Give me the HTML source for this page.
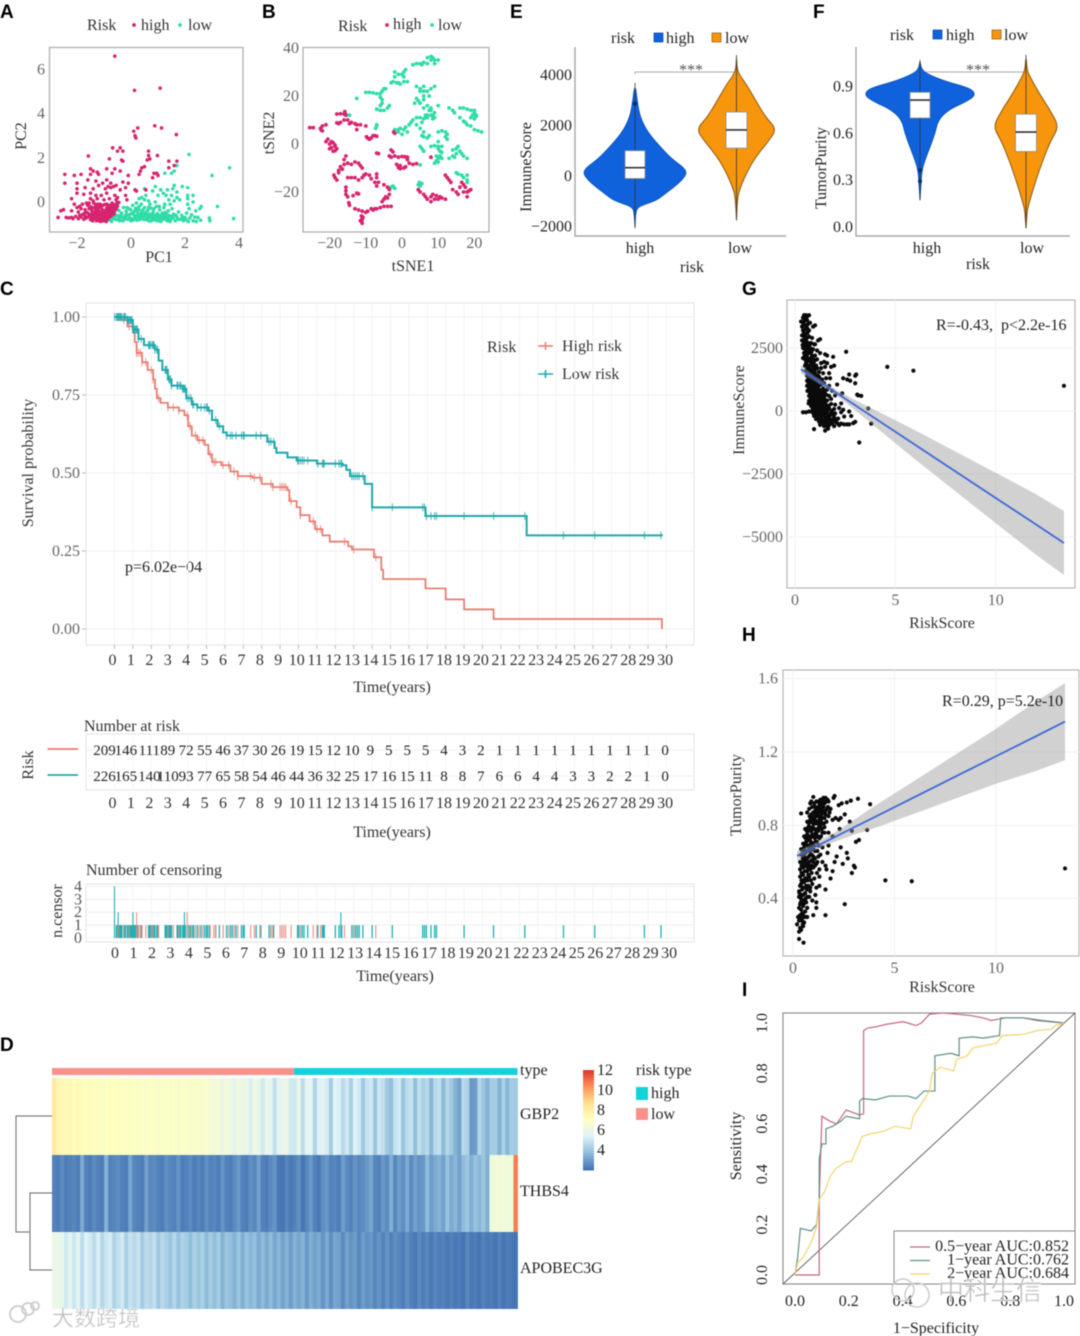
<!DOCTYPE html>
<html lang="en">
<head>
<meta charset="utf-8">
<title>Risk score multi-panel figure</title>
<style>
html,body{margin:0;padding:0;background:#fff;width:1080px;height:1336px;overflow:hidden}
svg{display:block;filter:blur(.5px)}
text{font-family:"Liberation Serif","Noto Sans CJK SC",serif;font-size:16px;fill:#222}
.letter{font-family:"Liberation Sans",sans-serif;font-weight:bold;font-size:19px;fill:#000}
.title{fill:#333}
.wm{font-family:"Liberation Sans","Noto Sans CJK SC",sans-serif;font-size:26px;fill:#bdbdbd;stroke:#fff;stroke-width:.4}
</style>
</head>
<body>
<svg id="fig" xmlns="http://www.w3.org/2000/svg" width="1080" height="1336" viewBox="0 0 1080 1336">
<rect width="1080" height="1336" fill="#fff"/>
<text class="letter" x="0" y="18">A</text>
<text class="letter" x="262" y="18">B</text>
<text class="letter" x="0" y="295">C</text>
<text class="letter" x="0" y="1051">D</text>
<text class="letter" x="510" y="18">E</text>
<text class="letter" x="813" y="18">F</text>
<text class="letter" x="742" y="295">G</text>
<text class="letter" x="742" y="641">H</text>
<text class="letter" x="742" y="996">I</text>

<g id="panelA">
<rect x="49.5" y="47.5" width="193.5" height="184.5" fill="#fff" stroke="#aaa" stroke-width="1.2"/>
<text class="title" x="87" y="30">Risk</text>
<circle cx="134" cy="25" r="1.9" fill="#d6246e"/>
<text class="title" x="141" y="30">high</text>
<circle cx="180" cy="25" r="1.9" fill="#2fdca8"/>
<text class="title" x="188" y="30">low</text>
<text class="title" x="159" y="262" text-anchor="middle">PC1</text>
<text class="title" transform="translate(26,136) rotate(-90)" text-anchor="middle">PC2</text>
</g>

<g id="panelB">
<rect x="303" y="47.5" width="186" height="184.5" fill="#fff" stroke="#aaa" stroke-width="1.2"/>
<text class="title" x="338" y="31">Risk</text>
<circle cx="387" cy="25" r="1.9" fill="#d6246e"/>
<text class="title" x="393" y="29">high</text>
<circle cx="432" cy="25" r="1.9" fill="#2fdca8"/>
<text class="title" x="438" y="30">low</text>
<text class="title" x="413" y="271" text-anchor="middle">tSNE1</text>
<text class="title" transform="translate(274,133) rotate(-90)" text-anchor="middle">tSNE2</text>
</g>

<g id="panelE">
<text x="611" y="43">risk</text>
<rect x="654" y="33" width="9" height="9" fill="#0f62dc" stroke="#0b47a0" stroke-width=".7"/>
<text x="666" y="43">high</text>
<rect x="712" y="33" width="9" height="9" fill="#f7960c" stroke="#8a5a10" stroke-width=".7"/>
<text x="725" y="43">low</text>
<path d="M575 47V236H786" fill="none" stroke="#999" stroke-width="1.2"/>
<text x="692" y="272" text-anchor="middle">risk</text>
<text transform="translate(531,167) rotate(-90)" text-anchor="middle">ImmuneScore</text>
<path d="M635 74V72H736" fill="none" stroke="#aaa" stroke-width="1"/>
<text x="691" y="75" text-anchor="middle" style="fill:#555">***</text>
</g>

<g id="panelF">
<text x="890" y="40">risk</text>
<rect x="933" y="30" width="9" height="9" fill="#0f62dc" stroke="#0b47a0" stroke-width=".7"/>
<text x="946" y="40">high</text>
<rect x="992" y="30" width="9" height="9" fill="#f7960c" stroke="#8a5a10" stroke-width=".7"/>
<text x="1004" y="40">low</text>
<path d="M856 47V236H1070" fill="none" stroke="#999" stroke-width="1.2"/>
<text x="978" y="269" text-anchor="middle">risk</text>
<text transform="translate(826,168) rotate(-90)" text-anchor="middle">TumorPurity</text>
<path d="M920 72H1025" fill="none" stroke="#aaa" stroke-width="1"/>
<text x="978" y="75" text-anchor="middle" style="fill:#555">***</text>
</g>

<g id="panelC">
<rect x="86" y="303" width="608" height="342" fill="#fff" stroke="#e6e6e6" stroke-width="1.2"/>
<text class="title" x="392" y="692" text-anchor="middle">Time(years)</text>
<text class="title" transform="translate(33,463) rotate(-90)" text-anchor="middle">Survival probability</text>
<text x="125" y="572">p=6.02e−04</text>
<text class="title" x="487" y="352">Risk</text>
<text class="title" x="562" y="351">High risk</text>
<text class="title" x="562" y="379">Low risk</text>
<path d="M538 346H553M545.5 342V350" stroke="#e8786c" stroke-width="1.4"/>
<path d="M538 374H553M545.5 370V378" stroke="#1fa8ab" stroke-width="1.6"/>
</g>

<g id="panelRisk">
<text class="title" x="84" y="731">Number at risk</text>
<rect x="86" y="734" width="608" height="56" fill="#fff" stroke="#e6e6e6" stroke-width="1.2"/>
<line x1="47.5" x2="78" y1="749" y2="749" stroke="#e8786c" stroke-width="1.8"/>
<line x1="47.5" x2="78" y1="775" y2="775" stroke="#1fa8ab" stroke-width="1.8"/>
<text class="title" transform="translate(33,765) rotate(-90)" text-anchor="middle">Risk</text>
<text class="title" x="392" y="837" text-anchor="middle">Time(years)</text>
</g>

<g id="panelCensor">
<text class="title" x="86" y="875">Number of censoring</text>
<rect x="86" y="884" width="608" height="58" fill="#fff" stroke="#e6e6e6" stroke-width="1.2"/>
<text class="title" transform="translate(62,911) rotate(-90)" text-anchor="middle">n.censor</text>
<text class="title" x="395" y="981" text-anchor="middle">Time(years)</text>
</g>

<g id="panelD">
<path d="M52 1116H16V1232H30M52 1193H30V1270H52" fill="none" stroke="#666" stroke-width="1"/>
<text x="520" y="1075">type</text>
<text x="520" y="1119">GBP2</text>
<text x="520" y="1196">THBS4</text>
<text x="520" y="1273">APOBEC3G</text>
<text x="636" y="1075">risk type</text>
<rect x="636" y="1087" width="12" height="13" fill="#12d3dc"/>
<text x="651" y="1098">high</text>
<rect x="636" y="1108" width="12" height="12" fill="#f8918a"/>
<text x="651" y="1119">low</text>
</g>

<g id="panelG">
<rect x="787" y="300" width="288" height="288" fill="#fff" stroke="#b5b5b5" stroke-width="1.2"/>
<text x="936" y="330" xml:space="preserve">R=-0.43,  p&lt;2.2e-16</text>
<text class="title" x="942" y="628" text-anchor="middle">RiskScore</text>
<text class="title" transform="translate(744,410) rotate(-90)" text-anchor="middle">ImmuneScore</text>
</g>

<g id="panelH">
<rect x="783" y="670" width="296" height="286" fill="#fff" stroke="#b5b5b5" stroke-width="1.2"/>
<text class="title" x="942" y="992" text-anchor="middle">RiskScore</text>
<text class="title" transform="translate(741,795) rotate(-90)" text-anchor="middle">TumorPurity</text>
</g>

<g id="panelI">
<rect x="783" y="1013" width="292" height="271" fill="#fff" stroke="#888" stroke-width="1.1"/>
<text x="936" y="1333" text-anchor="middle">1−Specificity</text>
<text transform="translate(741,1146) rotate(-90)" text-anchor="middle">Sensitivity</text>
</g>
<g id="watermarks"></g>
</svg>

<script>
// ---------- Panel A data (PC1, PC2) ----------
const pcaHigh=[[-.6,6.6],[.13,5.05],[1.08,5.15],[.1,3.2],[.25,3.35],[.15,3],[.18,2.9],[.88,3.45],[1.13,3.35],[1.68,3.05],[-.68,2.45],[-.5,2.3],[-.4,2.45],[-.3,2.3],[-1.58,2.08],[.65,2.3],[.65,2.1],[.7,1.95],[.98,2.1],[-.8,1.95],[-.35,1.9],[-.3,1.85],[1.4,1.85],[1.7,1.85],[.5,1.6],[.4,1.55],[.35,1.4],[.6,1.9],[1.4,1.55],[1.6,1.65],[-2.45,1.25],[-2.1,1.2],[-1.85,1.25],[-1.5,1.5],[-1.4,1.4],[-1.5,1.25],[-1.25,1.35],[-1.2,1.25],[-.9,1.5],[-.7,1.3],[-.6,1.5],[-.4,1.4],[-.1,1.2],[.3,1.25],[.85,1.3],[.95,1.3],[.8,1.1],[1,1.2],[-2.45,.85],[-2,.85],[-1.6,1],[-1.3,.95],[-1.2,.75],[-.9,1],[-.75,.85],[-.3,.9],[-.1,.85],[-.55,.75],[-1.05,.85],[-.85,.7],[-2,.6],[-2,.4],[-1.7,.65],[-1.4,.6],[-.95,.6],[-.75,.65],[-.65,.7],[-.4,.55],[-.2,.65],[.15,.55],[.2,.5],[.55,.55],[-2.2,.15],[-1.75,.35],[-1.5,.4],[-1.3,.3],[-1.1,.3],[-.9,.4],[-.6,.3],[-.5,.2],[-.2,.3],[-.15,.1],[-.55,.1],[-1,.1],[-1.5,.15],[-1.4,.05],[-1.25,.15],[-.8,.15],[-2.7,-.7],[-2.6,-.4],[-2.5,-.35],[-2.4,-.7],[-2.3,-.72],[-2.2,-.4],[-2.15,-.75],[-2.05,-.65],[-2,-.25],[-1.95,-.75],[-1.85,-.68],[-1.8,-.1],[-1.75,-.78],[-1.7,-.35],[-1.65,-.72],[-1.6,-.15],[-1.55,-.55],[-1.5,-.8],[-1.45,-.4],[-1.4,-.65],[-1.38,-.05],[-1.35,-.25],[-1.3,-.75],[-1.28,-.55],[-1.25,-.1],[-1.22,-.35],[-1.2,-.65],[-1.18,-.85],[-1.15,-.45],[-1.12,-.72],[-1.1,-.2],[-1.08,-.55],[-1.05,-.8],[-1.02,-.38],[-1,-.65],[-.98,-.12],[-.95,-.5],[-.93,-.78],[-.9,-.28],[-.88,-.6],[-.85,-.42],[-.83,-.72],[-.8,-.15],[-.78,-.52],[-.76,-.32],[-.74,-.65],[-.7,-.05],[-.68,-.42],[-.66,-.22],[-.63,-.55],[-.6,-.12],[-.58,-.35],[-.55,-.25],[-.52,-.05],[-.5,-.18],[-.45,-.02],[-1.95,-.45],[-1.85,-.3],[-1.62,-.48],[-1.48,-.22],[-1.32,-.42],[-1.24,-.8],[-1.16,-.25],[-1.06,-.35],[-.96,-.68],[-.86,-.55],[-.82,-.35],[-.72,-.45],[-1.42,-.85],[-1.28,-.85],[-1.12,-.88],[-1.02,-.85],[-.92,-.88],[-1.58,-.65],[-1.78,-.55],[-2.1,-.1]];
const pcaHighDense=[[-1.5,-.7],[-1.46,-.6],[-1.42,-.5],[-1.38,-.72],[-1.36,-.6],[-1.34,-.5],[-1.3,-.64],[-1.27,-.45],[-1.26,-.7],[-1.23,-.58],[-1.21,-.48],[-1.19,-.75],[-1.17,-.62],[-1.14,-.55],[-1.13,-.8],[-1.11,-.65],[-1.09,-.45],[-1.07,-.72],[-1.05,-.6],[-1.04,-.48],[-1.01,-.75],[-.99,-.56],[-.98,-.42],[-.97,-.82],[-.94,-.6],[-.92,-.45],[-.91,-.7],[-.89,-.35],[-.87,-.78],[-.84,-.5],[-.81,-.6],[-.8,-.42],[-.79,-.25],[-.77,-.4],[-.73,-.52],[-.71,-.3],[-.69,-.18],[-.67,-.34],[-.64,-.42],[-.62,-.24],[-.6,-.3],[-.56,-.12],[-.54,-.3],[-1.2,-.2],[-1.3,-.15],[-1.45,-.3],[-1.55,-.3],[-1.7,-.5],[-1.3,-.3],[-1.05,-.15],[-1.15,-.1],[-.9,-.1],[-.85,-.22],[-1.9,-.2],[-1.65,-.05],[-1.55,-.05],[-2.2,-.7],[-1.9,-.6],[-1.7,-.65]];
const pcaLow=[[3.65,1.55],[2.15,2.15],[3,1.2],[3.8,-.75],[3.2,-.2],[1.7,1.65],[1.6,1.4],[1.25,1.3],[1.5,1.3],[.9,.7],[2.1,.65],[1.9,.7],[1.6,.75],[1.55,.6],[1.35,.55],[1.7,.45],[2.3,.3],[2.1,.3],[1.1,.55],[1.2,.4],[1.3,.3],[1.5,.3],[1.7,.2],[1,.3],[.8,.5],[.5,.6],[.55,.3],[.4,.2],[.3,.15],[.2,-.05],[.5,.1],[.65,.05],[1.4,.1],[1.6,.05],[1.8,.1],[2.1,.15],[2.3,0],[2.6,-.2],[2.55,-.3],[2.4,-.4],[2.15,-.3],[2.1,-.1],[1.45,-.1],[.9,0],[.7,-.1],[-.85,-.8],[-.8,-.65],[-.75,-.82],[-.7,-.6],[-.65,-.75],[-.6,-.5],[-.55,-.8],[-.5,-.62],[-.45,-.38],[-.4,-.72],[-.35,-.5],[-.3,-.85],[-.28,-.25],[-.22,-.62],[-.18,-.42],[-.12,-.78],[-.08,-.3],[-.02,-.55],[.02,-.75],[.06,-.15],[.1,-.45],[.14,-.65],[.18,-.28],[.22,-.82],[.26,-.52],[.3,-.35],[.34,-.7],[.38,-.1],[.42,-.58],[.46,-.78],[.5,-.25],[.54,-.48],[.58,-.68],[.62,-.38],[.66,-.85],[.7,-.55],[.74,-.28],[.78,-.72],[.82,-.45],[.86,-.62],[.9,-.82],[.94,-.2],[.98,-.52],[1.02,-.7],[1.06,-.35],[1.1,-.88],[1.14,-.58],[1.18,-.78],[1.22,-.25],[1.26,-.48],[1.3,-.68],[1.34,-.85],[1.38,-.4],[1.42,-.62],[1.48,-.78],[1.52,-.3],[1.58,-.55],[1.64,-.85],[1.7,-.68],[1.76,-.45],[1.82,-.78],[1.88,-.6],[1.94,-.85],[2,-.7],[2.06,-.5],[2.12,-.88],[2.18,-.72],[2.24,-.58],[2.3,-.85],[2.36,-.68],[2.42,-.88],[2.48,-.7],[2.58,-.82],[2.9,-.72],[2.92,-.85],[.12,-.6],[.2,-.4],[.35,-.55],[.48,-.62],[.6,-.55],[.72,-.68],[.88,-.72],[.96,-.68],[1.08,-.62],[1.2,-.72],[1.28,-.78],[-.2,-.7],[-.1,-.6],[.05,-.5],[.28,-.68],[.4,-.45],[.55,-.8],[.75,-.85],[1,-.85],[1.45,-.88],[-.9,-.85],[-.72,-.88],[-.42,-.85],[0,-.85]];
const pcaLowDense=[[-.62,-.68],[-.48,-.78],[-.38,-.6],[-.32,-.68],[-.25,-.8],[-.16,-.55],[-.05,-.72],[.08,-.82],[.16,-.75],[.24,-.6],[.32,-.8],[.44,-.7],[.5,-.55],[.62,-.75],[.68,-.62],[.8,-.55],[.84,-.8],[.92,-.6],[1,-.6],[1.04,-.78],[1.12,-.7],[1.16,-.5],[1.24,-.62],[1.32,-.55],[1.36,-.72],[1.4,-.8],[1.5,-.65],[1.56,-.72],[1.66,-.6],[1.74,-.78],[1.9,-.72],[2.04,-.8],[.15,-.38],[.3,-.2],[.45,-.35],[.65,-.25],[.85,-.3],[1.05,-.2],[1.25,-.1],[-.15,-.25],[-.02,-.35]];
// ---------- Panel B data (tSNE1, tSNE2) ----------
const tsneHigh=[[-25.5,6.8],[-24.5,6.8],[-22.5,6.5],[-22,5.5],[-22,7.5],[-21,8],[-22.3,5.8],[-18,12.5],[-17,12.6],[-16,12.5],[-15.8,13.5],[-15.5,12],[-18,8.8],[-17.5,8.5],[-17,9],[-16,10],[-15,10],[-14.5,8.5],[-14,9],[-13,8.5],[-12.5,8],[-11.5,8],[-10,7.5],[-12.5,6],[-9.5,2.5],[-9,2],[-8.5,2.5],[-8,3.5],[-7.5,3.5],[-7,3.2],[-9.8,3],[-20.5,2],[-21,1],[-20,0],[-19.5,1],[-19.5,-1.5],[-19,-3],[-18.5,-.5],[-18,-2],[-20,-2],[-18.5,-2.8],[-19,.5],[-18.5,-1],[-7,-3.8],[-6.5,-4],[-3,-2.5],[-2.5,-3.3],[-3.5,-5],[-3,-5.5],[-2,-5],[-1,-5.5],[0,-5.2],[.8,-5.3],[1.5,-5.5],[1.5,-6.5],[2,-8],[3,-8.5],[4,-8.2],[-1.5,-8.5],[-1,-9.8],[-.5,-10.3],[.5,-10],[1,-9.5],[-.5,-9],[-2.3,5],[-2,4.5],[-15.5,-5],[-16,-6.5],[-15,-8],[-14,-8.5],[-13,-7.5],[-12,-8],[-11.5,-9],[-11,-10],[-16,-8.5],[-17,-9.5],[-17.5,-11],[-17.5,-12],[-18.8,-13],[-18.5,-14],[-18,-15],[-16.5,-10.5],[-15,-14],[-14,-14],[-13,-14],[-12,-15],[-11,-14],[-10.5,-13],[-10,-12.5],[-9,-13],[-8.5,-14.5],[-7,-12.5],[-7,-14],[-7.5,-16],[-7,-17.5],[-6.5,-16],[-5,-17],[-4,-18],[-3.5,-19],[-3.5,-21],[-4.5,-22],[-5,-23],[-5.5,-24],[-4,-22.5],[-15.5,-18],[-15.5,-19.5],[-15.5,-21],[-15,-22],[-13.5,-21.5],[-12.5,-20.5],[-12,-20.8],[-14.7,-24.5],[-14.5,-25.5],[-13,-27],[-12,-27.5],[-11,-28],[-10,-28.5],[-9.5,-28],[-8.5,-27],[-11.2,-30],[-11,-31],[-11.5,-32],[-11,-33],[-11,-31.5],[-10.8,-30.5],[-7.5,-27],[-7,-27],[-6,-26.5],[-5,-26],[-4,-26],[-3,-26],[-8,-27.5],[4.5,-19],[5,-20],[6,-21],[6.5,-22],[7,-23],[8,-24],[9,-23],[10,-23],[8.5,-21],[9.5,-21.5],[10.5,-22],[11,-22.5],[12,-23],[8,-22],[12,-13],[12.5,-14],[13,-15],[13.5,-16],[14,-19],[15,-20],[15.5,-21],[16,-18],[17,-17],[17.5,-18],[18,-20],[18.5,-19.5],[17,-20],[18,-22],[16.5,-16],[19,-19],[8,-5.5]];
const tsneLow=[[-12.5,19],[-10,21.5],[-9,21.5],[-8,21.3],[-7,21],[-6,21],[-5.5,22],[-5,23],[-4.5,23],[-6,19.5],[-5.5,18.5],[-5.5,17],[-6,16],[-7,14.5],[-6,14],[-5,14],[-4,15],[-3.5,16],[-3,25.5],[-2.5,26],[-1.5,25.5],[-1,25.5],[-.5,25],[.5,26],[1.5,26],[-2,28],[-1,29],[0,29],[.5,30],[1,31],[.5,28],[-2,30],[3,33],[4,33.5],[5,33.5],[5.5,33],[6,34],[7,36],[8,36.5],[8,35],[8.5,36],[9,35],[10,35],[9,33.5],[7,33.5],[4,24],[5,23],[5,22],[6,24],[6,22],[7,22],[6,20],[7.5,20],[8,23],[4,19],[4.5,18],[3.5,17],[5,17],[6,18.5],[9,24],[-7,7.5],[-7,8],[-7.3,6.5],[-15.5,12.5],[-14.5,12],[-2,6],[-1,6],[-1,5],[-.5,6.5],[0,4],[.5,6],[1,7],[1.5,5],[2,8],[2.5,9],[3,10],[4,11],[5,11],[6,10.5],[6.5,11],[5.5,9],[6.5,12],[7,12],[8,12],[8.5,12],[8,14],[7.5,14],[6,15],[7,16],[9,11],[8.5,10.5],[10,16],[8,15],[9,13],[7,11],[13,15],[14,14],[14.5,13],[16,15],[17,15],[18,14.5],[19,14],[20,14],[20,13],[20.5,12],[19.5,12],[19,11],[20,10.5],[20.5,11.5],[16,11],[17,9.5],[17.5,9],[18,8],[19,7.5],[20,6],[21,5.5],[22,5],[4,8],[5,6.5],[6,5],[5.5,3.5],[6,3],[7,2.5],[7.5,3.5],[10,5],[11,5.5],[12,5],[12,3],[12.5,2],[12.5,4],[10,1],[5,-1],[5.5,-2],[6,-3],[8,-1],[9,-.7],[10,-1],[11,-1],[10,-2],[10.5,-3],[11,-3.5],[9.5,-5],[10,-6],[9.5,-7],[9,-8],[10,-7.5],[11,-6],[10.5,-5],[13,-6],[14,-5],[14.5,-5.5],[15,-4],[15,-2],[15.5,-1],[16,-3],[16.5,-4],[17,-5],[18,-6],[14,-2.5],[15,-12],[15.5,-12.5],[16.5,-13],[17,-14],[18,-13],[18,-15],[18,-16],[4.5,-17],[5,-17.5],[5.5,-16.5],[4.8,-16],[-3,-18],[-2.5,-17.5],[-2,-18.5],[5,-8.7]];
// ---------- Violin data ----------
const immuneHighValues=[-2000,-1400,-1186,-1050,-909,-632,-395,-119,158,395,672,1067,1739,2370,2925,3715];
const immuneHighWidths=[0,.6,3,12,22,31,39,47,52,48,38,28,13,5,2.5,0];
const immuneLowValues=[-1700,-790,-395,158,790,1462,1897,2370,3043,3715,4032,4308,4822];
const immuneLowWidths=[0,1,4,10,19,33,40,29,19,9,3,.5,0];
const purityHighValues=[.18,.288,.372,.436,.52,.607,.69,.756,.81,.853,.897,.94,.99,1.025,1.077];
const purityHighWidths=[0,1,2,5,10,15,18,28,46,56,50,25,6,1,0];
const purityLowValues=[0,.096,.135,.224,.327,.436,.564,.65,.756,.865,.97,1.013,1.11];
const purityLowWidths=[0,1,2,6,11,17,25,33,24,13,4,1,0];
const immuneBoxHigh=[-60,370,1040];
const immuneBoxLow=[1140,1860,2570];
const purityBoxHigh=[.705,.82,.87];
const purityBoxLow=[.49,.615,.73];
// ---------- Survival data ----------
const kmLowT=[0,.7,1,1.3,1.6,2.2,2.4,2.6,2.9,3.1,3.7,3.9,4.2,4.5,5.1,5.3,5.6,5.9,6.1,8,8.3,8.7,8.8,9.4,9.9,11,12.4,12.6,12.8,13.6,14,16.9,22.4,29.8];
const kmLowS=[1,.99,.96,.93,.91,.895,.86,.83,.80,.78,.77,.74,.72,.71,.70,.67,.65,.63,.62,.62,.60,.58,.565,.55,.54,.53,.525,.51,.49,.465,.39,.362,.30,.30];
const kmHighT=[0,.4,.7,1,1.1,1.2,1.5,1.8,2.1,2.2,2.3,2.5,2.9,3.5,3.8,4,4.2,4.5,4.9,5.1,5.3,5.8,6.3,6.7,7.5,8,8.6,9.4,9.5,9.9,10.1,10.6,10.9,11.3,11.7,12.7,12.9,14.1,14.5,14.6,16.9,18,19,20.6,29.7,29.75];
const kmHighS=[1,.99,.97,.95,.92,.885,.855,.83,.80,.77,.74,.725,.71,.70,.685,.65,.62,.605,.59,.56,.535,.525,.505,.49,.485,.465,.455,.445,.41,.39,.365,.345,.32,.30,.28,.265,.255,.23,.19,.16,.13,.095,.063,.032,.032,0];
const censorLowTimes=[.1,.15,.25,.3,.35,.4,.5,.55,.6,.7,.75,.8,.85,.9,.95,1.05,1.1,1.15,1.2,1.25,1.3,1.45,1.85,1.9,1.95,2.05,2.1,2.15,2.2,2.3,2.35,2.75,2.8,2.85,2.95,3,3.05,3.1,3.4,3.45,3.55,3.6,3.7,3.75,3.85,3.95,4.05,4.15,4.25,4.3,4.5,4.7,4.9,5,5.05,5.15,5.5,5.7,6.1,6.3,6.4,6.6,6.9,7,7.05,7.7,7.95,8.4,8.5,8.65,9.95,10,10.1,10.2,10.3,10.5,11.05,11.3,11.35,11.4,12,12.2,12.35,12.9,13,13.1,13.2,13.3,13.5,14,15.1,16.75,16.85,16.95,17.2,17.4,17.5,19,20.6,22.3,24.4,26.1,28.8,29.7];
const censorLowPeakTimes=[0,.2,1,3.8,12.3];
const censorLowPeakCounts=[4,2,2,2,2];
const censorHighTimes=[.2,.5,.8,1.2,1.3,1.4,1.5,1.7,2,2.1,2.4,2.9,3.2,3.5,4.1,4.4,4.6,4.8,5.2,5.4,5.5,5.9,6.2,6.5,6.7,7.4,7.6,7.9,8.5,8.6,9,9.1,9.2,9.3,9.6,10.1,10.8,11,11.2,12.5,13,14.2];
const censorHighPeakTimes=[1.2,3.95];
const censorHighPeakCounts=[2,2];
const timeTicks=[0,1,2,3,4,5,6,7,8,9,10,11,12,13,14,15,16,17,18,19,20,21,22,23,24,25,26,27,28,29,30];
const survivalTicks=[0,.25,.5,.75,1];
const survivalTickLabels=['0.00','0.25','0.50','0.75','1.00'];
const atRiskHigh=[209,146,111,89,72,55,46,37,30,26,19,15,12,10,9,5,5,5,4,3,2,1,1,1,1,1,1,1,1,1,0];
const atRiskLow=[226,165,140,110,93,77,65,58,54,46,44,36,32,25,17,16,15,11,8,8,7,6,6,4,4,3,3,2,2,1,0];
const censorTicks=[0,1,2,3,4];
// ---------- Heatmap data ----------
const riskTypeCounts=[226,209];
const geneGBP2=[8.2,7.6,7.4,7.3,7.4,7.1,7.3,7.1,7,7.2,6.9,7.1,6.7,7,7.1,7,6.9,7,6.8,6.9,7,6.7,6.9,6.7,6.8,6.9,6.6,6.8,6.8,6.7,6.8,6.6,6.8,6.7,6.6,6.7,6.7,6.5,6.7,6.4,6.2,6.4,5.8,6.3,6,5.5,6.2,5.9,6,5.2,6.1,5.8,5,5.8,5.6,4.7,5.5,5.8,5.9,5,5,5.8,4.6,5.5,5.6,4.3,5.3,5.5,5.1,4.1,5.4,5.2,4.5,5,4.2,5.3,5,4,4.8,5,3.9,4.9,4.7,4,3.7,4.8,5,3.9,4.6,4.8,3.7,4.7,4.2,4.5,3.5,4.5,4.7,3.6,4.4,4,3.4,3,4.5,4.3,2.8,2.9,4.4,3.9,3.4,4.1,4.1,3.4,4.2,3.5,4.1,4];
const geneTHBS4=[2.3,2.2,2.5,2.2,2.3,2.4,2.2,3.2,2.3,2.2,2.5,2.3,2.2,3.4,2.3,2.4,2.5,2.3,2.2,3.1,2.4,2.3,2.2,3,2.4,2.5,2.3,2.2,2.6,2.4,2.3,2.7,2.2,2.3,2.5,2.2,2.4,2.2,2.6,2.3,2.4,2.2,2.7,2.3,2.2,2.5,2.8,2.3,2.2,2.6,2.4,3,2.3,2.2,2.5,2.7,2.1,2,2.4,2.1,2.3,2.6,2,2.4,2.8,2.3,2.1,2.6,2.8,2.3,2.4,2.2,2.9,2.5,2.3,2.7,2.4,2.5,2.8,3.1,2.4,2.3,2.8,2.5,3.3,2.4,2.9,2.6,3.2,2.5,3,2.7,2.8,3.6,2.9,3.2,3.4,3,3.8,3.2,3.5,3,3.6,3.9,3.3,3.8,3.5,3.9,3.3,6.1,6.3,6.2,6.3,6.1,6.2,10.6];
const geneAPOBEC3G=[5.9,5.8,5.7,5,5.6,4.9,5.5,4.6,5.3,5,4.6,5.2,4.4,4.9,5.1,4.3,4.7,5,4.2,4.8,4.5,4.8,4.1,4.6,4.4,4.7,4,4.5,4.2,3.9,4.4,3.8,4.3,4.1,3.7,4.2,3.9,4.2,3.6,4.1,3.7,4.1,3.4,3.9,3.7,3.4,3.9,3.3,3.8,3.5,3.7,3.2,3.6,3.2,3.6,3.1,3.5,3,3.4,2.9,3.4,3.1,3.4,2.8,3.3,3,3.2,2.7,3.2,2.6,3.1,3,2.5,3,2.7,2.9,2.4,2.9,2.6,2.8,2.4,2.7,2.3,2.7,2.3,2.6,2.4,2.2,2.6,2.3,2.1,2.5,2.2,2.4,2.1,2.4,2.2,2.3,2.1,2.3,2.1,2.2,2,2.4,2.1,2.2,2,2.3,2.1,2.2,2,2.3,2,2.2,2.1,2];
const colorbarTicks=[4,6,8,10,12];
// ---------- Panel G / H data ----------
const immuneCorrPoints=[[.45,3800],[.55,3800],[.6,3750],[.7,3800],[.4,3700],[.3,3550],[.45,3550],[.6,3600],[.75,3500],[.5,3400],[.6,3300],[.7,3200],[.9,3350],[1,3400],[.4,3200],[.35,3000],[.5,3050],[.7,2950],[.85,2900],[.35,2800],[.45,2700],[.55,2800],[.65,2700],[.8,2700],[1,2650],[1.15,2800],[1.25,2850],[.4,2500],[.5,2450],[.6,2550],[.75,2500],[.9,2450],[1.1,2400],[.45,2300],[.6,2250],[.7,2300],[.85,2200],[1,2200],[1.25,2300],[1.5,2250],[1.6,2200],[1.9,2150],[2.55,2350],[.4,2100],[.5,2050],[.65,2000],[.8,2100],[.95,1950],[1.1,2050],[1.3,1900],[1.45,1950],[1.6,1900],[.5,1800],[.7,1800],[.9,1750],[1.05,1800],[1.3,1700],[1.5,1750],[1.8,1750],[1.95,1800],[.55,1600],[.7,1550],[.85,1600],[1,1500],[1.2,1550],[1.4,1500],[1.7,1500],[2.7,1450],[3,1400],[3.05,1450],[2.6,1250],[2.4,1300],[2.75,1200],[3,1100],[4.6,1750],[5.9,1600],[13.4,1000],[3.2,-1250],[3.8,-500],[3.65,100],[3.1,650],[3.3,600],[3.15,620],[2.1,1050],[2.35,700],[.6,1400],[.75,1350],[.9,1400],[1.05,1300],[1.2,1350],[1.35,1250],[1.55,1300],[1.75,1300],[.6,1200],[.8,1150],[.95,1200],[1.1,1100],[1.3,1050],[1.45,1100],[1.7,1000],[.6,1000],[.75,950],[.9,1000],[1.05,900],[1.2,850],[1.4,900],[1.6,850],[1.85,800],[.65,800],[.8,750],[.95,800],[1.1,700],[1.25,650],[1.4,700],[1.55,650],[1.7,600],[2,620],[.7,600],[.85,550],[1,600],[1.15,500],[1.3,450],[1.45,500],[1.6,420],[1.8,480],[.7,400],[.85,350],[1,400],[1.15,300],[1.3,250],[1.45,320],[1.6,220],[1.8,280],[2,250],[2.3,300],[.8,200],[.95,150],[1.1,200],[1.25,100],[1.4,120],[1.55,60],[1.7,100],[1.95,80],[2.2,120],[2.4,50],[.4,-50],[.55,-50],[.7,-20],[.85,-30],[1,20],[1.15,-60],[1.3,-80],[1.45,-40],[1.6,-100],[1.8,-60],[2,-100],[2.3,-50],[2.7,-20],[.95,-200],[1.1,-220],[1.3,-250],[1.5,-240],[1.7,-280],[1.95,-250],[2.15,-300],[2.45,-220],[2.8,-200],[1.2,-420],[1.4,-450],[1.55,-380],[1.75,-430],[2,-420],[2.3,-500],[2.6,-530],[2.9,-480],[3,-430],[1.25,-550],[1.45,-600],[1.7,-560],[1.95,-600],[2.2,-560],[.95,-720],[1.5,-780],[1.65,-700],[.5,3000],[.6,2900],[.75,2350],[.55,2150],[.65,1700],[.8,1450],[.9,1250],[1.05,1050],[1.2,750],[1.35,550],[.55,1900],[.95,2650],[.65,3450],[.5,3650],[.75,1250],[1,850],[1.15,650],[1.25,400],[1.4,200],[.85,650],[.9,450],[1,250],[1.2,50],[1.35,-150],[1.6,-200],[1.05,120]];
const immuneCorrDense=[[.42,3450],[.52,3250],[.62,3100],[.48,2900],[.58,2650],[.72,2620],[.38,2620],[.52,2600],[.68,2420],[.82,2350],[.48,2180],[.62,2120],[.78,1950],[.92,2050],[.58,1950],[.72,1680],[.88,1850],[1.02,1650],[.62,1500],[.78,1620],[.92,1500],[1.1,1700],[1.15,1400],[.68,1300],[.82,1250],[1,1350],[1.12,1250],[1.25,1200],[.68,1120],[.85,1050],[1,1100],[1.18,1000],[1.35,1120],[.7,900],[.82,880],[.98,920],[1.12,820],[1.3,780],[1.48,780],[.75,680],[.9,720],[1.05,650],[1.2,620],[1.32,600],[1.5,620],[.78,480],[.92,480],[1.08,520],[1.2,420],[1.38,400],[1.52,360],[.82,280],[.95,300],[1.1,320],[1.22,220],[1.35,320],[1.52,180],[1.68,200],[.88,80],[1.02,90],[1.15,120],[1.3,30],[1.48,-10],[1.62,30],[1.85,10],[.92,-100],[1.08,-120],[1.22,-130],[1.38,-100],[1.52,-150],[1.75,-170],[1.9,-150],[1.05,-320],[1.2,-320],[1.35,-350],[1.5,-340],[1.65,-340],[1.85,-340],[2.05,-350],[1.3,-480],[1.5,-500],[1.65,-470],[1.85,-500],[2.1,-480],[2.45,-530],[2.7,-530],[1.6,-620],[.35,3350],[.45,3100],[.55,2350],[.6,1650],[.72,1050],[.8,550],[.9,60],[.62,800],[.68,300]];
const immuneFitX=[.3,1,2,3,4,6,8,10,12,13.4];
const immuneFitY=[1650,1280,755,230,-296,-1348,-2400,-3450,-4500,-5240];
const immuneCiLow=[1490,1170,645,30,-626,-1928,-3190,-4450,-5700,-6510];
const immuneCiHigh=[1810,1390,865,430,34,-768,-1610,-2450,-3300,-3970];
const purityCorrPoints=[[1,.955],[1.6,.95],[1.7,.94],[1.5,.95],[2,.95],[2.05,.96],[3.2,.945],[2.85,.935],[2.65,.925],[3.8,.915],[2.4,.92],[2.25,.91],[.85,.92],[.95,.9],[1.1,.9],[1.25,.9],[1.4,.91],[1.55,.92],[1.75,.93],[1.85,.89],[.7,.87],[.4,.865],[.9,.86],[1,.87],[1.15,.85],[1.3,.875],[1.45,.88],[1.6,.86],[1.8,.87],[2.1,.84],[2.35,.84],[2.55,.86],[.7,.82],[.85,.83],[1,.81],[1.15,.82],[1.3,.83],[1.45,.84],[1.65,.82],[1.95,.83],[2.25,.83],[2.8,.82],[.6,.78],[.75,.79],[.9,.77],[1.05,.78],[1.2,.78],[1.35,.8],[1.55,.79],[1.75,.76],[2.3,.78],[2.9,.77],[3.65,.775],[.55,.74],[.7,.75],[.85,.73],[1,.74],[1.15,.75],[1.3,.73],[1.45,.76],[1.95,.74],[.5,.7],[.65,.71],[.8,.69],[.95,.7],[1.1,.71],[1.25,.69],[3.1,.71],[3.25,.72],[.4,.67],[.55,.68],[.7,.66],[.85,.66],[1,.67],[1.2,.66],[1.45,.68],[1.75,.69],[2.35,.68],[.4,.64],[.55,.63],[.7,.62],[.85,.64],[1,.63],[1.25,.63],[1.7,.65],[2.65,.65],[2.15,.63],[2.7,.62],[.35,.6],[.5,.6],[.65,.59],[.8,.6],[1,.6],[1.15,.59],[1.45,.6],[1.6,.58],[2.05,.6],[2.45,.59],[.35,.56],[.5,.57],[.7,.55],[.85,.56],[1,.57],[1.3,.56],[1.65,.56],[1.95,.55],[3.05,.57],[3,.58],[2.9,.54],[.35,.52],[.5,.53],[.65,.51],[.8,.52],[1.05,.51],[1.3,.52],[1.85,.51],[4.55,.5],[5.85,.495],[13.4,.565],[.4,.48],[.55,.49],[.75,.47],[.95,.48],[1.15,.46],[1.3,.47],[1.6,.45],[.3,.44],[.45,.45],[.6,.43],[.85,.44],[1.1,.42],[.3,.41],[.4,.4],[.55,.39],[.7,.41],[.95,.39],[1.15,.38],[1.15,.35],[2.55,.37],[.35,.37],[.5,.36],[.7,.35],[.4,.34],[.6,.33],[.5,.31],[.7,.3],[1,.31],[1.6,.31],[.3,.28],[.45,.28],[.2,.26],[.5,.25],[.35,.24],[.55,.27],[.3,.22],[.4,.23],[.3,.18],[.52,.16],[.95,.84],[1.1,.88],[1.25,.85],[1.4,.86],[.85,.79],[1.1,.81],[.95,.75],[1.25,.77],[.75,.72],[.9,.68],[.6,.65],[.75,.58],[.45,.5],[.65,.47],[.5,.42],[1.2,.93],[1.5,.9],[1.35,.94],[1.6,.88]];
const purityCorrDense=[[1.05,.92],[1.15,.93],[1.3,.92],[1.45,.93],[1.62,.93],[1.72,.9],[1.1,.87],[1.2,.89],[1.35,.89],[1.52,.87],[1.68,.89],[.82,.85],[.98,.84],[1.08,.85],[1.22,.87],[1.38,.85],[1.55,.84],[.78,.81],[.92,.82],[1.08,.83],[1.22,.81],[1.38,.82],[1.52,.81],[.68,.77],[.82,.77],[.98,.79],[1.12,.76],[1.28,.79],[1.42,.78],[.62,.73],[.78,.74],[.92,.74],[1.08,.73],[1.22,.74],[1.38,.74],[.58,.7],[.72,.69],[.88,.71],[1.02,.69],[1.18,.71],[.48,.66],[.62,.66],[.78,.68],[.92,.64],[1.08,.66],[.48,.62],[.62,.61],[.78,.63],[.92,.61],[1.08,.62],[.42,.58],[.58,.58],[.72,.57],[.9,.58],[1.08,.58],[.42,.54],[.58,.55],[.75,.53],[.92,.54],[1.18,.54],[.42,.5],[.6,.51],[.72,.5],[.88,.5],[.35,.47],[.5,.46],[.68,.45],[.85,.46],[.32,.43],[.45,.42],[.62,.4],[.8,.41],[.38,.38],[.52,.37],[.65,.38],[.3,.35],[.45,.32],[.58,.3],[.42,.29],[.48,.26],[.9,.93],[.8,.89],[1.75,.85],[1.55,.76],[1.2,.6],[1.35,.64],[.25,.3],[.35,.31]];
const purityFitX=[.2,1,2,3,4,6,8,10,12,13.4];
const purityFitY=[.634,.678,.733,.789,.844,.955,1.066,1.177,1.288,1.366];
const purityCiLow=[.609,.658,.708,.749,.784,.865,.946,1.027,1.098,1.156];
const purityCiHigh=[.659,.698,.758,.829,.904,1.045,1.186,1.327,1.478,1.576];
const corrXTicks=[0,5,10];
const immuneCorrYTicks=[2500,0,-2500,-5000];
const purityCorrYTicks=[.4,.8,1.2,1.6];
// ---------- ROC data ----------
const roc05Fpr=[0,.09,.09,.1,.13,.155,.19,.24,.255,.255,.27,.3,.34,.4,.42,.45,.47,.5,.55,.6,.65,.7,.73,.78,.85,.9,1];
const roc05Tpr=[0,0,.3,.63,.61,.6,.655,.635,.64,.97,.98,.985,.995,1.005,1,.99,1,1.035,1.04,1.035,1.03,1.02,1.01,1.02,1.02,1.01,1];
const roc1Fpr=[0,.01,.015,.02,.06,.08,.09,.09,.1,.115,.115,.14,.17,.19,.24,.24,.25,.3,.35,.42,.45,.48,.52,.52,.58,.61,.61,.66,.7,.76,.765,.85,.92,1];
const roc1Tpr=[0,.07,.13,.185,.175,.2,.3,.46,.52,.52,.58,.59,.61,.63,.62,.69,.7,.695,.71,.71,.7,.73,.73,.87,.88,.87,.94,.945,.94,.95,1.02,1.02,1.01,1];
const roc2Fpr=[0,.01,.03,.06,.08,.09,.11,.13,.15,.19,.21,.23,.25,.28,.33,.37,.43,.44,.47,.5,.51,.54,.59,.6,.64,.66,.7,.75,.77,.85,.9,.95,.97,1];
const roc2Tpr=[0,.05,.07,.13,.19,.3,.33,.39,.42,.45,.45,.5,.55,.56,.57,.59,.58,.63,.68,.73,.8,.825,.81,.855,.87,.9,.91,.92,.95,.955,.97,.975,.99,1];
const rocTicks=[0,.2,.4,.6,.8,1];
const rocTickLabels=['0.0','0.2','0.4','0.6','0.8','1.0'];
const rocLegendLabels=['0.5−year AUC:0.852','1−year AUC:0.762','2−year AUC:0.684'];

// ---------- helpers ----------
const NS='http://www.w3.org/2000/svg';
function mk(tag,attrs,parent){const e=document.createElementNS(NS,tag);for(const k in attrs)e.setAttribute(k,attrs[k]);parent.appendChild(e);return e;}
const $=id=>document.getElementById(id);
const TICK='#666';

function xTickLabels(parent,vals,xf,y,fill,fmt,prefix){
  vals.forEach(v=>{
    const t=mk('text',{x:xf(v),y:y,'text-anchor':'middle'},parent);
    
    
    t.style.fill=fill;
    t.textContent=(fmt?fmt(v):String(v)).replace('-','−');
  });
}
function yTickLabels(parent,vals,yf,x,fill,fmt,prefix){
  vals.forEach(v=>{
    const t=mk('text',{x:x,y:yf(v)+5,'text-anchor':'end'},parent);
    
    
    t.style.fill=fill;
    t.textContent=(fmt?fmt(v):String(v)).replace('-','−');
  });
}
function dots(parent,pts,xf,yf,r,fill,label){
  pts.forEach(p=>{
    const c=mk('circle',{cx:xf(p[0]),cy:yf(p[1]),r:r,fill:fill},parent);
    
    
  });
}

// ---------- A ----------
const xA=v=>131+27*v, yA=v=>202-22.1*v;
xTickLabels($('panelA'),[-2,0,2,4],xA,248,TICK,null,'pca');
yTickLabels($('panelA'),[0,2,4,6],yA,45,TICK,null,'pca');
dots($('panelA'),pcaLow.concat(pcaLowDense),xA,yA,1.8,'#2fdca8','pca-point-low');
dots($('panelA'),pcaHigh.concat(pcaHighDense),xA,yA,1.8,'#d6246e','pca-point-high');
// ---------- B ----------
const xB=v=>402+3.62*v, yB=v=>144-2.4*v;
xTickLabels($('panelB'),[-20,-10,0,10,20],xB,248,TICK,null,'tsne');
yTickLabels($('panelB'),[-20,0,20,40],yB,299,TICK,null,'tsne');
dots($('panelB'),tsneLow,xB,yB,1.9,'#2fdca8','tsne-point-low');
dots($('panelB'),tsneHigh,xB,yB,1.9,'#d6246e','tsne-point-high');

// ---------- E / F violins ----------
function smoothClosed(pts){
  let d='M'+pts[0][0]+' '+pts[0][1];
  for(let i=1;i<pts.length-1;i++){
    const mx=(pts[i][0]+pts[i+1][0])/2,my=(pts[i][1]+pts[i+1][1])/2;
    d+='Q'+pts[i][0]+' '+pts[i][1]+' '+mx+' '+my;
  }
  return d+'L'+pts[pts.length-1][0]+' '+pts[pts.length-1][1]+'Z';
}
function violin(parent,cx,vals,widths,yf,fill,stroke,box,boxHalf,label){
  const pts=[];
  vals.forEach((v,i)=>{pts.push([cx-widths[i],yf(v)]);});
  for(let i=vals.length-2;i>=0;i--)pts.push([cx+widths[i],yf(vals[i])]);
  const p=mk('path',{d:smoothClosed(pts),fill:fill,stroke:stroke,'stroke-width':1,'stroke-linejoin':'round'},parent);
  
  
  const l=mk('line',{x1:cx,x2:cx,y1:yf(vals[0]),y2:yf(vals[vals.length-1]),stroke:'#333','stroke-width':.8},parent);
  
  
  const r=mk('rect',{x:cx-boxHalf,width:boxHalf*2,y:yf(box[2]),height:yf(box[0])-yf(box[2]),fill:'#fff',stroke:'#888','stroke-width':.8},parent);
  
  
  const m=mk('line',{x1:cx-boxHalf,x2:cx+boxHalf,y1:yf(box[1]),y2:yf(box[1]),stroke:'#333','stroke-width':1.6},parent);
  
  
}
const yE=v=>177-.0253*v, yF=v=>228-156*v;
violin($('panelE'),635,immuneHighValues,immuneHighWidths,yE,'#0f62dc','#0d55bd',immuneBoxHigh,10,'immune-high');
violin($('panelE'),736.5,immuneLowValues,immuneLowWidths,yE,'#f7960c','#8a5a10',immuneBoxLow,10.5,'immune-low');
violin($('panelF'),920,purityHighValues,purityHighWidths,yF,'#0f62dc','#0d55bd',purityBoxHigh,10,'purity-high');
violin($('panelF'),1026,purityLowValues,purityLowWidths,yF,'#f7960c','#8a5a10',purityBoxLow,10.5,'purity-low');
dots($('panelE'),[[635,2900]],p=>p,yE,2,'#0a2a60','immune-high-outlier');
dots($('panelF'),[[920,.37],[920,.3]],p=>p,yF,2,'#0a2a60','purity-high-outlier');
yTickLabels($('panelE'),[-2000,0,2000,4000],v=>yE(v)-1,572,'#222',null,'immune');
yTickLabels($('panelF'),[0,.3,.6,.9],v=>yF(v)-1,853,'#222',v=>v.toFixed(1),'purity');
const immuneCats=['high','low'];
immuneCats.forEach((c,i)=>{
  const t=mk('text',{x:[640,740][i],y:253,'text-anchor':'middle'},$('panelE'));
  
  
  t.textContent=c;
  const u=mk('text',{x:[927,1032][i],y:253,'text-anchor':'middle'},$('panelF'));
  
  
  u.textContent=c;
});

// ---------- C survival ----------
const xC=t=>114.5+18.4*t, yC=s=>629-312*s;
const gC=$('panelC');
survivalTicks.forEach(v=>{
  const g=mk('line',{x1:86,x2:694,y1:yC(v),y2:yC(v),stroke:'#eee','stroke-width':1},gC);
  
  
  const tk=mk('line',{x1:82,x2:86,y1:yC(v),y2:yC(v),stroke:'#bbb','stroke-width':1},gC);
  
  
});
survivalTicks.forEach((v,i)=>{
  const t=mk('text',{x:80,y:yC(v)+5,'text-anchor':'end'},gC);
  
  
  t.style.fill=TICK;
  t.textContent=survivalTickLabels[i];
});
timeTicks.forEach(v=>{
  const g=mk('line',{x1:xC(v),x2:xC(v),y1:303,y2:645,stroke:'#f3f3f3','stroke-width':1},gC);
  
  
  const tk=mk('line',{x1:xC(v),x2:xC(v),y1:645,y2:649,stroke:'#bbb','stroke-width':1},gC);
  
  
});
const xCL=t=>112.5+18.42*t;
xTickLabels(gC,timeTicks,xCL,665,'#333',null,'survival');
function stepPath(ts,ss){
  let d='M'+xC(ts[0])+' '+yC(ss[0]);
  for(let i=1;i<ts.length;i++){d+='H'+xC(ts[i])+'V'+yC(ss[i]);}
  return d;
}
function survivalAt(ts,ss,t){let s=ss[0];for(let i=0;i<ts.length;i++){if(ts[i]<=t)s=ss[i];}return s;}
function kmCurve(ts,ss,censors,color,w,label){
  const p=mk('path',{d:stepPath(ts,ss),fill:'none',stroke:color,'stroke-width':w},gC);
  
  
  censors.forEach(t=>{
    const y=yC(survivalAt(ts,ss,t)), x=xC(t);
    const m=mk('path',{d:'M'+x+' '+(y-4)+'V'+(y+4),stroke:color,'stroke-width':.8},gC);
    
    
  });
}
kmCurve(kmHighT,kmHighS,censorHighTimes.concat(censorHighPeakTimes),'#e8786c',1.7,'high-risk');
kmCurve(kmLowT,kmLowS,censorLowTimes.concat(censorLowPeakTimes),'#1fa8ab',2,'low-risk');

// ---------- number at risk ----------
const gR=$('panelRisk');
const riskNudge=[-8,-5];
function riskRow(vals,y,label){
  vals.forEach((v,i)=>{
    const t=mk('text',{x:xCL(i)+(riskNudge[i]||0),y:y+5,'text-anchor':'middle'},gR);
    
    
    t.style.fontSize='15px';
    t.textContent=v;
  });
}
[750,776].forEach(y=>{
  const g=mk('line',{x1:86,x2:694,y1:y,y2:y,stroke:'#f0f0f0','stroke-width':1},gR);
  
  
});
timeTicks.forEach(v=>{
  const g=mk('line',{x1:xC(v),x2:xC(v),y1:734,y2:790,stroke:'#f5f5f5','stroke-width':1},gR);
  
  
});
riskRow(atRiskHigh,750,'at-risk-high-value');
riskRow(atRiskLow,776,'at-risk-low-value');
xTickLabels(gR,timeTicks,xCL,808,'#333',null,'risk-table');

// ---------- censoring ----------
const gN=$('panelCensor');
const xN=t=>114.5+18.4*t, yN=n=>938-12.9*n;
censorTicks.forEach(n=>{
  const g=mk('line',{x1:86,x2:694,y1:yN(n),y2:yN(n),stroke:'#eee','stroke-width':1},gN);
  
  
});
timeTicks.forEach(v=>{
  const g=mk('line',{x1:xN(v),x2:xN(v),y1:884,y2:942,stroke:'#f3f3f3','stroke-width':1},gN);
  
  
});
yTickLabels(gN,censorTicks,yN,82,'#555',null,'censor');
xTickLabels(gN,timeTicks,t=>115+18.47*t,958,'#333',null,'censor');
function censorBars(times,n,color,width,label){
  times.forEach((t,i)=>{
    const c=Array.isArray(n)?n[i]:n;
    const b=mk('line',{x1:xN(t),x2:xN(t),y1:yN(0),y2:yN(c),stroke:color,'stroke-width':width},gN);
    
    
  });
}
censorBars(censorLowTimes,1,'#1fb0b3',1.3,'censor-bar-low');
censorBars(censorLowPeakTimes,censorLowPeakCounts,'#1fb0b3',1.1,'censor-bar-low');
censorBars(censorHighTimes,1,'#e88d86',1.1,'censor-bar-high');
censorBars(censorHighPeakTimes,censorHighPeakCounts,'#e88d86',1,'censor-bar-high');

// ---------- D heatmap ----------
const gD=$('panelD');
const cStops=[[2,[69,117,180]],[3.67,[145,191,219]],[5.33,[224,243,248]],[7,[255,255,191]],[8.67,[254,224,144]],[10.33,[252,141,89]],[12,[215,48,39]]];
function heat(v){
  v=Math.max(2,Math.min(12,v));
  for(let i=1;i<cStops.length;i++){
    if(v<=cStops[i][0]){
      const a=cStops[i-1],b=cStops[i],f=(v-a[0])/(b[0]-a[0]);
      return 'rgb('+a[1].map((c,k)=>Math.round(c+(b[1][k]-c)*f)).join(',')+')';
    }
  }
  return 'rgb(215,48,39)';
}
const hmLeft=52,hmRight=517.5;
const xAnn=n=>hmLeft+(hmRight-hmLeft)*n/(riskTypeCounts[0]+riskTypeCounts[1]);
const annLow=mk('rect',{x:xAnn(0),y:1068,width:xAnn(riskTypeCounts[0])-xAnn(0),height:7,fill:'#f8918a'},gD);


const annHigh=mk('rect',{x:xAnn(riskTypeCounts[0]),y:1068,width:xAnn(riskTypeCounts[0]+riskTypeCounts[1])-xAnn(riskTypeCounts[0]),height:7,fill:'#12d3dc'},gD);


function heatRow(vals,y0,h,label){
  const w=(hmRight-hmLeft)/vals.length;
  vals.forEach((v,i)=>{
    const r=mk('rect',{x:hmLeft+i*w,y:y0,width:w+.4,height:h,fill:heat(v)},gD);
    
    
  });
}
heatRow(geneGBP2,1078,77,'heatmap-cell-gbp2');
heatRow(geneTHBS4,1155,77,'heatmap-cell-thbs4');
heatRow(geneAPOBEC3G,1232,77,'heatmap-cell-apobec3g');
const yBar=v=>1170-(v-2)*10;
for(let v=2;v<12;v+=.25){
  const r=mk('rect',{x:583,y:yBar(v+.25),width:11,height:3,fill:heat(v)},gD);
  
  
}
colorbarTicks.forEach(v=>{
  const t=mk('text',{x:597,y:yBar(v)+5},gD);
  
  
  t.textContent=v;
});

// ---------- G / H correlation ----------
function corrPanel(parent,pts,xf,yf,fitX,fitY,lo,hi,top,bottom,left,right,yTicks,labelX,fmt,prefix){
  corrXTicks.forEach(v=>{
    const g=mk('line',{x1:xf(v),x2:xf(v),y1:top,y2:bottom,stroke:'#f1f1f1','stroke-width':1},parent);
    
    
  });
  yTicks.forEach(v=>{
    const g=mk('line',{x1:left,x2:right,y1:yf(v),y2:yf(v),stroke:'#f1f1f1','stroke-width':1},parent);
    
    
  });
  dots(parent,pts,xf,yf,2.1,'#0a0a0a',prefix+'-point');
  let d='';
  fitX.forEach((x,i)=>{d+=(i?'L':'M')+xf(x)+' '+yf(hi[i]);});
  for(let i=fitX.length-1;i>=0;i--)d+='L'+xf(fitX[i])+' '+yf(lo[i]);
  const band=mk('path',{d:d+'Z',fill:'#999','fill-opacity':.45},parent);
  
  
  const line=mk('polyline',{points:fitX.map((x,i)=>xf(x)+','+yf(fitY[i])).join(' '),fill:'none',stroke:'#3d68d8','stroke-width':1.8},parent);
  
  
  xTickLabels(parent,corrXTicks,xf,bottom+17,TICK,null,prefix);
  yTickLabels(parent,yTicks,yf,labelX,TICK,fmt,prefix);
}
const xG=v=>795+20.07*v, yG=v=>411-.0252*v;
corrPanel($('panelG'),immuneCorrPoints.concat(immuneCorrDense),xG,yG,immuneFitX,immuneFitY,immuneCiLow,immuneCiHigh,300,588,787,1075,immuneCorrYTicks,783,null,'immune-corr');
const xH=v=>793+20.3*v, yH=v=>972-183.3*v;
corrPanel($('panelH'),purityCorrPoints.concat(purityCorrDense),xH,yH,purityFitX,purityFitY,purityCiLow,purityCiHigh,670,956,783,1079,purityCorrYTicks,778,v=>v.toFixed(1),'purity-corr');
const hStat=mk('text',{x:942,y:706},$('panelH'));


hStat.setAttribute('xml:space','preserve');
hStat.textContent='R=0.29,  p=5.2e-10';

// ---------- I ROC ----------
const gI=$('panelI');
const xI=v=>795+269*v, yI=v=>1275-252*v;
const diag=mk('line',{x1:783,y1:1284,x2:1075,y2:1013,stroke:'#555','stroke-width':.9},gI);


function rocLine(fpr,tpr,color,label){
  const p=mk('polyline',{points:fpr.map((f,i)=>xI(f)+','+yI(tpr[i])).join(' '),fill:'none',stroke:color,'stroke-width':1.2},gI);
  
  
}
rocLine(roc05Fpr,roc05Tpr,'#c4667c','roc-curve-half-year');
rocLine(roc1Fpr,roc1Tpr,'#5e8f86','roc-curve-1-year');
rocLine(roc2Fpr,roc2Tpr,'#f0d56a','roc-curve-2-year');
rocTicks.forEach((v,i)=>{
  const t=mk('text',{transform:'translate(767,'+yI(v)+') rotate(-90)','text-anchor':'middle'},gI);
  
  
  t.textContent=rocTickLabels[i];
  const u=mk('text',{x:xI(v),y:1306,'text-anchor':'middle'},gI);
  
  
  u.textContent=rocTickLabels[i];
});
const legBox=mk('rect',{x:894,y:1231,width:181,height:53,fill:'#fff',stroke:'#888','stroke-width':1},gI);


const rocColors=['#c4667c','#5e8f86','#f0d56a'];
rocLegendLabels.forEach((s,i)=>{
  const y=1246+13.5*i;
  const k=mk('line',{x1:910,x2:930,y1:y+1,y2:y+1,stroke:rocColors[i],'stroke-width':1.2},gI);
  
  
  const t=mk('text',{x:1069,y:y+5,'text-anchor':'end'},gI);
  
  
  t.textContent=s;
});

// ---------- watermarks ----------
const gW=$('watermarks');
const wm1=mk('text',{x:938,y:1300,class:'wm'},gW);


wm1.textContent='中科生信';
const wm2=mk('text',{x:52,y:1326,class:'wm'},gW);


wm2.style.fontSize='22px';
wm2.textContent='大数跨境';
[[903,1290,11],[917,1295,12]].forEach(c=>{
  const o=mk('circle',{cx:c[0],cy:c[1],r:c[2],fill:'none',stroke:'#ccc','stroke-width':1.5},gW);
  
  
});
[[18,1314,8],[28,1309,6],[35,1306,4]].forEach(c=>{
  const o=mk('circle',{cx:c[0],cy:c[1],r:c[2],fill:'none',stroke:'#ccc','stroke-width':1.8},gW);
  
  
});
</script>
</body>
</html>
